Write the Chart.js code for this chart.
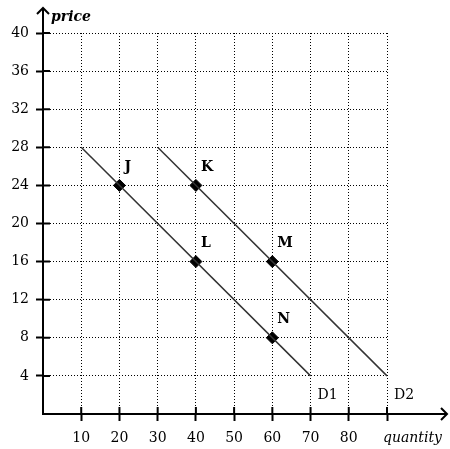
<!DOCTYPE html>
<html>
<head>
<meta charset="utf-8">
<script src="https://cdn.jsdelivr.net/npm/chart.js@4"></script>
<style>
  body { margin: 0; background: #fff; }
  #wrap { width: 450px; height: 449px; }
</style>
</head>
<body>
<div id="wrap"><canvas id="demand-chart" width="450" height="449"></canvas></div>
<script>
// data
const xTicks = [10, 20, 30, 40, 50, 60, 70, 80, 90];
const yTicks = [4, 8, 12, 16, 20, 24, 28, 32, 36, 40];
const curveNames = ['D1', 'D2'];
const d1Qty = [10, 70];
const d1Price = [28, 4];
const d2Qty = [30, 90];
const d2Price = [28, 4];
const pointNames = ['J', 'K', 'L', 'M', 'N'];
const pointQty = [20, 40, 40, 60, 60];
const pointPrice = [24, 24, 16, 16, 8];

const FONT = '"DejaVu Serif", "Liberation Serif", serif';

const toXY = (xs, ys) => xs.map((x, i) => ({ x: x, y: ys[i] }));

// axes arrows, inner tick halves and text labels
const extrasPlugin = {
    id: 'extras',
    afterDraw(chart) {
        const ctx = chart.ctx;
        const xs = chart.scales.x, ys = chart.scales.y;
        const area = chart.chartArea;
        ctx.save();
        ctx.strokeStyle = '#000';
        ctx.lineWidth = 2;
        ctx.beginPath();
        // x axis extension + arrow
        ctx.moveTo(area.right, area.bottom); ctx.lineTo(447, area.bottom);
        ctx.moveTo(441, area.bottom - 6); ctx.lineTo(447, area.bottom); ctx.lineTo(441, area.bottom + 6);
        // y axis extension + arrow
        ctx.moveTo(area.left, area.top); ctx.lineTo(area.left, 8);
        ctx.moveTo(area.left - 6, 14); ctx.lineTo(area.left, 8); ctx.lineTo(area.left + 6, 14);
        // tick marks crossing the axes
        xTicks.forEach(v => {
            const px = xs.getPixelForValue(v);
            ctx.moveTo(px, area.bottom - 7); ctx.lineTo(px, area.bottom);
        });
        yTicks.forEach(v => {
            const py = ys.getPixelForValue(v);
            ctx.moveTo(area.left, py); ctx.lineTo(area.left + 7, py);
        });
        ctx.stroke();

        ctx.fillStyle = '#000';
        ctx.textBaseline = 'middle';
        ctx.textAlign = 'left';
        ctx.font = 'italic bold 14px ' + FONT;
        ctx.fillText('price', area.left + 8, 17);
        ctx.font = 'italic 14px ' + FONT;
        ctx.fillText('quantity', xs.getPixelForValue(90) - 4, 438);

        ctx.font = 'bold 14px ' + FONT;
        pointNames.forEach((name, i) => {
            const px = xs.getPixelForValue(pointQty[i]);
            const py = ys.getPixelForValue(pointPrice[i]);
            ctx.fillText(name, px + 5, py - 18);
        });
        ctx.font = '14px ' + FONT;
        const ends = [[d1Qty[1], d1Price[1]], [d2Qty[1], d2Price[1]]];
        curveNames.forEach((name, i) => {
            const px = xs.getPixelForValue(ends[i][0]);
            const py = ys.getPixelForValue(ends[i][1]);
            ctx.fillText(name, px + 7, py + 19);
        });
        ctx.restore();
    }
};

const chart = new Chart(document.getElementById('demand-chart'), {
    type: 'scatter',
    data: {
        datasets: [
            { label: 'D1', type: 'line', data: toXY(d1Qty, d1Price), borderColor: '#333', borderWidth: 1.5, pointRadius: 0, fill: false },
            { label: 'D2', type: 'line', data: toXY(d2Qty, d2Price), borderColor: '#333', borderWidth: 1.5, pointRadius: 0, fill: false },
            { label: 'points', data: toXY(pointQty, pointPrice), pointStyle: 'rectRot', pointRadius: 6, backgroundColor: '#000', borderColor: '#000', borderWidth: 1 }
        ]
    },
    options: {
        responsive: false,
        animation: false,
        layout: { padding: { top: 33, right: 63, left: 0, bottom: 0 } },
        plugins: { legend: { display: false }, tooltip: { enabled: false } },
        scales: {
            x: {
                type: 'linear', min: 0, max: 90,
                afterFit: s => { s.height = 35; },
                ticks: {
                    stepSize: 10, padding: 9, color: '#000',
                    font: { family: FONT, size: 14 },
                    callback: v => (v === 0 || v === 90) ? '' : v
                },
                grid: {
                    color: c => c.tick && c.tick.value === 0 ? 'rgba(0,0,0,0)' : '#000',
                    tickColor: c => c.tick && c.tick.value === 0 ? 'rgba(0,0,0,0)' : '#000',
                    lineWidth: 1, tickLength: 7, tickWidth: 2, tickBorderDash: []
                },
                border: { display: true, color: '#000', width: 2, dash: [1, 2] }
            },
            y: {
                type: 'linear', min: 0, max: 40,
                afterFit: s => { s.width = 43; },
                ticks: {
                    stepSize: 4, padding: 7, color: '#000',
                    font: { family: FONT, size: 14 },
                    callback: v => v === 0 ? '' : v
                },
                grid: {
                    color: c => c.tick && c.tick.value === 0 ? 'rgba(0,0,0,0)' : '#000',
                    tickColor: c => c.tick && c.tick.value === 0 ? 'rgba(0,0,0,0)' : '#000',
                    lineWidth: 1, tickLength: 7, tickWidth: 2, tickBorderDash: []
                },
                border: { display: true, color: '#000', width: 2, dash: [1, 2] }
            }
        }
    },
    plugins: [extrasPlugin]
});
</script>
</body>
</html>
